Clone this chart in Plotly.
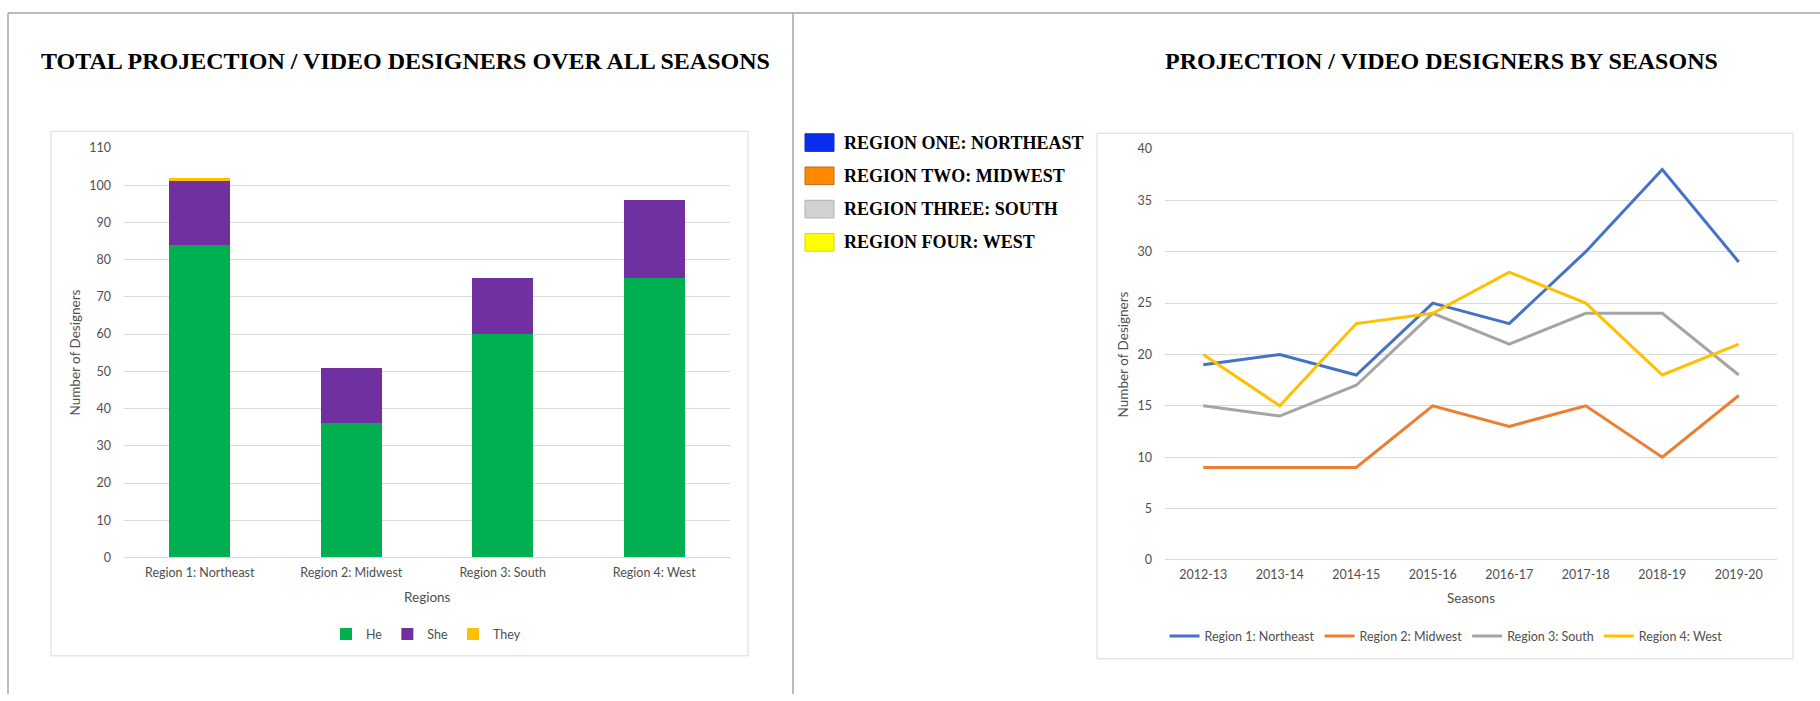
import plotly.graph_objects as go

# Datos: total de diseñadores por región (barras apiladas)
regiones = ['Region 1: Northeast', 'Region 2: Midwest', 'Region 3: South', 'Region 4: West']
he = [84, 36, 60, 75]
she = [17, 15, 15, 21]
they = [1, 0, 0, 0]

# Datos: diseñadores por temporada (líneas)
temporadas = ['2012-13', '2013-14', '2014-15', '2015-16', '2016-17', '2017-18', '2018-19', '2019-20']
northeast = [19, 20, 18, 25, 23, 30, 38, 29]
midwest = [9, 9, 9, 15, 13, 15, 10, 16]
south = [15, 14, 17, 24, 21, 24, 24, 18]
west = [20, 15, 23, 24, 28, 25, 18, 21]

# Leyenda lateral del panel derecho
leyenda_regiones = ['REGION ONE: NORTHEAST', 'REGION TWO: MIDWEST', 'REGION THREE: SOUTH', 'REGION FOUR: WEST']

# Paleta
colores_barras = ['#00B050', '#7030A0', '#FFC000']
colores_lineas = ['#4472C4', '#ED7D31', '#A5A5A5', '#FFC000']
colores_leyenda = ['#0A2EF0', '#FF8A00', '#D2D2D2', '#FFFF00']
bordes_leyenda = ['#1A2FA0', '#B86A20', '#B0B0B0', '#D8D800']

W, H = 1820, 701


def px(x):
    # pixel de pantalla -> coordenada "paper"
    return x / W


def py(y):
    return 1 - y / H


fuente_eje = dict(family='Lato, Open Sans, sans-serif', size=12.5, color='#4F4F4F')
fuente_titulo = dict(family='Liberation Serif, Times New Roman, serif', size=24, color='#000000')
fuente_titulo_eje = dict(family='Lato, Open Sans, sans-serif', size=13.5, color='#4F4F4F')

fig = go.Figure()

# Barras apiladas
for nombre, valores, color in zip(['He', 'She', 'They'], [he, she, they], colores_barras):
    fig.add_trace(go.Bar(
        x=regiones, y=valores, name=nombre,
        marker=dict(color=color, line=dict(width=0)),
        xaxis='x', yaxis='y', legend='legend'
    ))

# Líneas por temporada
nombres_lineas = ['Region 1: Northeast', 'Region 2: Midwest', 'Region 3: South', 'Region 4: West']
for nombre, valores, color in zip(nombres_lineas, [northeast, midwest, south, west], colores_lineas):
    fig.add_trace(go.Scatter(
        x=temporadas, y=valores, name=nombre, mode='lines',
        line=dict(color=color, width=3),
        xaxis='x2', yaxis='y2', legend='legend2'
    ))

# Cajas, bordes y leyenda lateral
formas = [
    dict(type='rect', xref='paper', yref='paper', x0=px(51), x1=px(748), y0=py(662), y1=py(126),
         line=dict(color='#D9D9D9', width=1)),
    dict(type='rect', xref='paper', yref='paper', x0=px(1097), x1=px(1793), y0=py(665), y1=py(128),
         line=dict(color='#D9D9D9', width=1)),
    dict(type='line', xref='paper', yref='paper', x0=px(8), x1=1, y0=py(5), y1=py(5),
         line=dict(color='#A6A6A6', width=1.5)),
    dict(type='line', xref='paper', yref='paper', x0=px(8), x1=px(8), y0=py(5), y1=0,
         line=dict(color='#A6A6A6', width=1.5)),
    dict(type='line', xref='paper', yref='paper', x0=px(793), x1=px(793), y0=py(5), y1=0,
         line=dict(color='#A6A6A6', width=1.5)),
]

anotaciones = [
    dict(text='<b>TOTAL PROJECTION / VIDEO DESIGNERS OVER ALL SEASONS</b>', x=px(405), y=py(54),
         xref='paper', yref='paper', xanchor='center', yanchor='middle', showarrow=False, font=fuente_titulo),
    dict(text='<b>PROJECTION / VIDEO DESIGNERS BY SEASONS</b>', x=px(1441), y=py(54),
         xref='paper', yref='paper', xanchor='center', yanchor='middle', showarrow=False, font=fuente_titulo),
    dict(text='Number of Designers', x=px(75), y=py(352), textangle=-90,
         xref='paper', yref='paper', xanchor='center', yanchor='middle', showarrow=False, font=fuente_titulo_eje),
    dict(text='Regions', x=px(427), y=py(602),
         xref='paper', yref='paper', xanchor='center', yanchor='middle', showarrow=False, font=fuente_titulo_eje),
    dict(text='Number of Designers', x=px(1123), y=py(354), textangle=-90,
         xref='paper', yref='paper', xanchor='center', yanchor='middle', showarrow=False, font=fuente_titulo_eje),
    dict(text='Seasons', x=px(1471), y=py(603),
         xref='paper', yref='paper', xanchor='center', yanchor='middle', showarrow=False, font=fuente_titulo_eje),
]

for i, (texto, color, borde) in enumerate(zip(leyenda_regiones, colores_leyenda, bordes_leyenda)):
    yc = 137.5 + i * 34
    formas.append(dict(type='rect', xref='paper', yref='paper', x0=px(805), x1=px(834),
                       y0=py(yc + 9), y1=py(yc - 9), fillcolor=color, line=dict(color=borde, width=1)))
    anotaciones.append(dict(text='<b>' + texto + '</b>', x=px(842), y=py(yc), xref='paper', yref='paper',
                            xanchor='left', yanchor='middle', showarrow=False,
                            font=dict(family='Liberation Serif, Times New Roman, serif', size=18, color='#000000')))

fig.update_layout(
    width=W, height=H, autosize=False,
    margin=dict(l=0, r=0, t=0, b=0),
    paper_bgcolor='#FFFFFF', plot_bgcolor='#FFFFFF',
    barmode='stack', bargap=0.6,
    showlegend=True,
    xaxis=dict(domain=[px(124), px(730)], anchor='y', range=[-0.5, 3.5], showgrid=False,
               showline=False, zeroline=False, tickfont=fuente_eje, ticklabelstandoff=6, fixedrange=True),
    yaxis=dict(domain=[py(561.5), py(143)], anchor='x', range=[0, 110], dtick=10,
               gridcolor='#D9D9D9', gridwidth=1, zeroline=True, zerolinecolor='#D9D9D9', zerolinewidth=1,
               showline=False, tickfont=fuente_eje, ticklabelstandoff=12, fixedrange=True),
    xaxis2=dict(domain=[px(1165), px(1777)], anchor='y2', range=[-0.5, 7.5], showgrid=False,
                showline=False, zeroline=False, tickfont=fuente_eje, ticklabelstandoff=6, fixedrange=True),
    yaxis2=dict(domain=[py(564), py(144)], anchor='x2', range=[0, 40], dtick=5,
                gridcolor='#D9D9D9', gridwidth=1, zeroline=True, zerolinecolor='#D9D9D9', zerolinewidth=1,
                showline=False, tickfont=fuente_eje, ticklabelstandoff=12, fixedrange=True),
    legend=dict(orientation='h', x=px(426), xanchor='center', y=py(640), yanchor='middle',
                traceorder='normal', itemwidth=30, font=fuente_eje, bgcolor='rgba(0,0,0,0)'),
    legend2=dict(orientation='h', x=px(1446), xanchor='center', y=py(642), yanchor='middle',
                 traceorder='normal', itemwidth=30, font=fuente_eje, bgcolor='rgba(0,0,0,0)'),
    shapes=formas,
    annotations=anotaciones,
)

# Sin margen en el body para que la figura ocupe toda la ventana
fig.write_html('out.html', config={'displayModeBar': False},
               post_script="document.body.style.margin='0';")
